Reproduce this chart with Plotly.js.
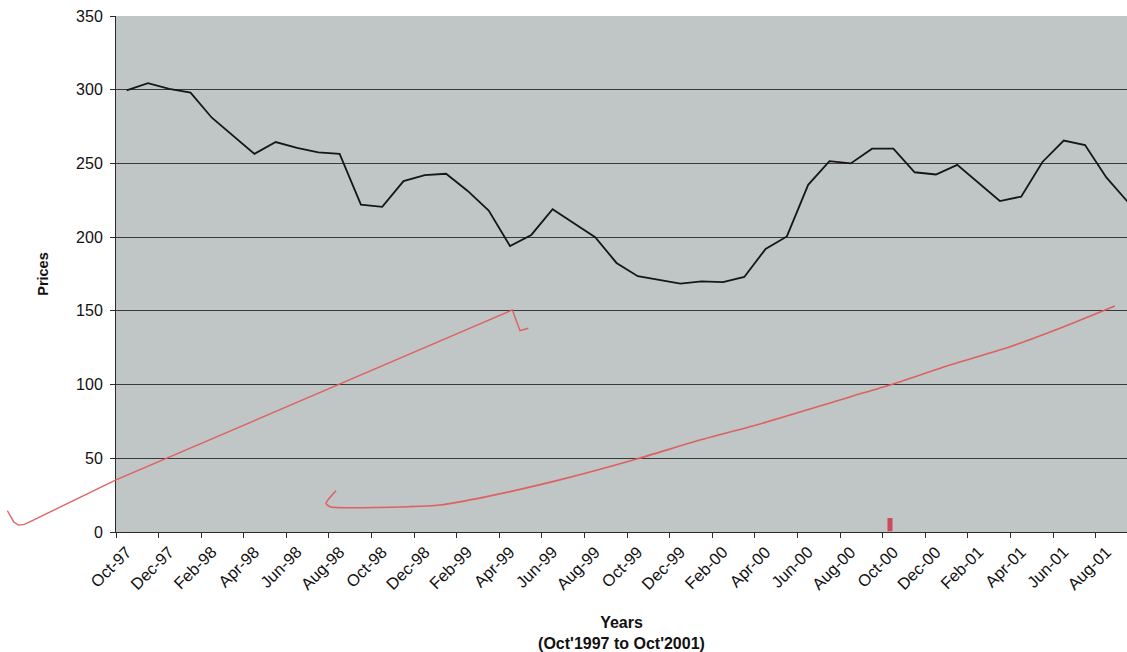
<!DOCTYPE html>
<html>
<head>
<meta charset="utf-8">
<script src="https://cdn.plot.ly/plotly-3.0.1.min.js"></script>
<style>
  html, body { margin: 0; padding: 0; background: #ffffff; }
  #chart { width: 1127px; height: 652px; }
</style>
</head>
<body>
<div id="chart"></div>
<script>
// ---- data ----
const months = [
  "Oct-97","Nov-97","Dec-97","Jan-98","Feb-98","Mar-98","Apr-98","May-98","Jun-98","Jul-98","Aug-98","Sep-98",
  "Oct-98","Nov-98","Dec-98","Jan-99","Feb-99","Mar-99","Apr-99","May-99","Jun-99","Jul-99","Aug-99","Sep-99",
  "Oct-99","Nov-99","Dec-99","Jan-00","Feb-00","Mar-00","Apr-00","May-00","Jun-00","Jul-00","Aug-00","Sep-00",
  "Oct-00","Nov-00","Dec-00","Jan-01","Feb-01","Mar-01","Apr-01","May-01","Jun-01","Jul-01","Aug-01","Sep-01"
];
const prices = [
  299.5, 304.5, 300.5, 298, 281, 268.5, 256.5, 264.5, 260.5, 257.5, 256.5, 222,
  220.5, 238, 242, 243, 231.5, 218, 194, 201.5, 219, 209.5, 200, 182.5,
  173.5, 171, 168.5, 170, 169.5, 173, 192, 200.5, 235.5, 251.5, 250, 260,
  260, 244, 242.5, 249, 237, 224.5, 227.5, 251, 265.5, 262.5, 240.5, 224
];
// hand-drawn red pen strokes on the scan (x in month-index units, y in price units)
const penStroke1X = [-5.6, -5.45, -5.3, -5.08, -4.8, -4.38, -0.5, 18.11, 18.47, 18.86];
const penStroke1Y = [14.4, 10.5, 6.8, 4.7, 5.2, 8.1, 35.3, 150.6, 136.5, 138.2];
const penStroke2X = [9.83, 9.36, 9.55, 13.3, 14.71, 16.9, 20.43, 23.95, 26.92, 29.74, 34.0, 35.84, 38.66, 41.48, 43.82, 46.4];
const penStroke2Y = [28.0, 19.5, 17.2, 17.2, 18.3, 24.0, 35.7, 49.5, 62.4, 73.3, 91.8, 99.7, 113.3, 125.7, 138.2, 153.3];
const penMarkX = [35.84, 35.84];
const penMarkY = [0.5, 9.5];

const yTicks = [0, 50, 100, 150, 200, 250, 300, 350];

// ---- derived ----
const idx = months.map((m, i) => i);
const labelIdx = idx.filter(i => i % 2 === 0);
const labelText = labelIdx.map(i => months[i]);

const xRange = [-0.5, 46.97];
const d0 = 116 / 1127;
const x2Left = xRange[0] - (xRange[1] - xRange[0]) * d0 / (1 - d0);

const FONT = "Liberation Sans, Arial, Helvetica, sans-serif";
const pen = "rgba(222,92,92,0.95)";

const traces = [
  { x: idx, y: prices, type: "scatter", mode: "lines",
    line: { color: "#161616", width: 1.8 }, xaxis: "x", yaxis: "y", hoverinfo: "skip" },
  { x: penStroke1X, y: penStroke1Y, type: "scatter", mode: "lines",
    line: { color: pen, width: 1.4 }, xaxis: "x2", yaxis: "y2", hoverinfo: "skip" },
  { x: penStroke2X, y: penStroke2Y, type: "scatter", mode: "lines",
    line: { color: pen, width: 1.6, shape: "spline", smoothing: 0.6 }, xaxis: "x2", yaxis: "y2", hoverinfo: "skip" },
  { x: penMarkX, y: penMarkY, type: "scatter", mode: "lines",
    line: { color: "rgba(205,60,80,0.9)", width: 5 }, xaxis: "x2", yaxis: "y2", hoverinfo: "skip" }
];

const layout = {
  width: 1127, height: 652,
  margin: { l: 0, r: 0, t: 16, b: 120 },
  paper_bgcolor: "#ffffff",
  plot_bgcolor: "rgba(0,0,0,0)",
  showlegend: false,
  font: { family: FONT, color: "#111111", size: 15 },
  shapes: [{
    type: "rect", xref: "x domain", yref: "y domain",
    x0: 0, x1: 1, y0: 0, y1: 1,
    fillcolor: "#c0c5c5", line: { width: 0 }, layer: "below"
  }],
  xaxis: {
    domain: [d0, 1], range: xRange, anchor: "y",
    tickmode: "array", tickvals: labelIdx, ticktext: labelText,
    tickangle: -45, ticks: "", ticklabelstandoff: 3,
    tickfont: { size: 16.5, family: FONT, color: "#111" },
    showgrid: false, zeroline: false,
    showline: true, linecolor: "#2a2a2a", linewidth: 1,
    minor: { tickmode: "linear", tick0: -0.5, dtick: 2, ticks: "outside", ticklen: 5, tickcolor: "#2a2a2a", tickwidth: 1, showgrid: false },
    title: { text: "<b>Years</b><br><b>(Oct'1997 to Oct'2001)</b>", font: { size: 16, family: FONT, color: "#111" }, standoff: 30 },
    automargin: false, fixedrange: true
  },
  yaxis: {
    range: [0, 350], anchor: "x",
    tickmode: "array", tickvals: yTicks,
    ticks: "outside", ticklen: 5, tickcolor: "#2a2a2a",
    ticklabelstandoff: 4,
    tickfont: { size: 16, family: FONT, color: "#111" },
    showgrid: true, gridcolor: "#383838", gridwidth: 1,
    zeroline: false, showline: true, linecolor: "#2a2a2a", linewidth: 1,
    title: { text: "<b>Prices</b>", font: { size: 14.5, family: FONT, color: "#111" }, standoff: 24 },
    automargin: false, fixedrange: true
  },
  xaxis2: { domain: [0, 1], range: [x2Left, xRange[1]], anchor: "y2", visible: false, fixedrange: true },
  yaxis2: { domain: [0, 1], range: [0, 350], anchor: "x2", visible: false, fixedrange: true }
};

Plotly.newPlot("chart", traces, layout, { staticPlot: true, displayModeBar: false });
</script>
</body>
</html>
